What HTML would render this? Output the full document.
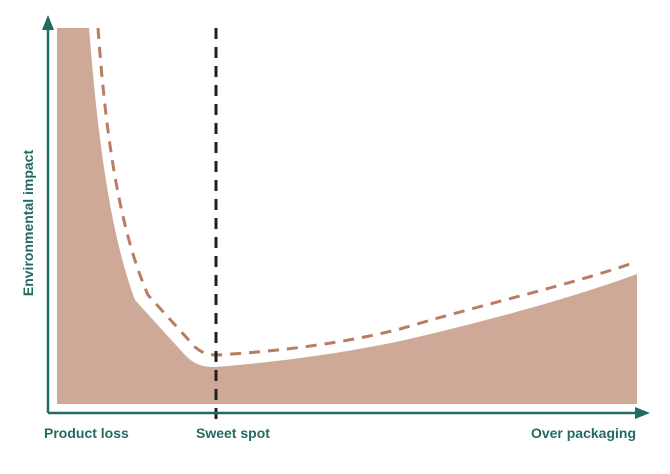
<!DOCTYPE html>
<html><head><meta charset="utf-8"><style>
html,body{margin:0;padding:0;background:#fff;}
svg{display:block;}
text{font-family:"Liberation Sans",sans-serif;font-weight:bold;fill:#226b60;font-size:14px;}
</style></head><body>
<svg width="670" height="474" viewBox="0 0 670 474" xmlns="http://www.w3.org/2000/svg">
<path d="M57,28 L89,28 C95,100 105,220 135,300 L185,355 C195,365 203,367 215,367 C280,362 350,352 405,340 C500,318 580,295 637,274 L637,404 L57,404 Z" fill="#cfa997"/>
<path d="M98,28 C104,110 115,220 148,295 L195,347 C202,353 208,355 218,355 C280,351 340,344 400,329 C480,305 570,285 636,262" fill="none" stroke="#b97d64" stroke-width="3" stroke-dasharray="11,8"/>
<line x1="216" y1="28" x2="216" y2="423" stroke="#231f1f" stroke-width="3" stroke-dasharray="11,8"/>
<path d="M48,413 L48,28 M48,413 L637,413" fill="none" stroke="#226b60" stroke-width="2.5"/>
<path d="M42,30 L48,15 L54,30 Z" fill="#226b60"/>
<path d="M635,407 L650,413 L635,419 Z" fill="#226b60"/>
<text x="44" y="438">Product loss</text>
<text x="196" y="438">Sweet spot</text>
<text x="636" y="438" text-anchor="end">Over packaging</text>
<text transform="translate(33,223) rotate(-90)" text-anchor="middle" font-size="13">Environmental impact</text>
</svg>
</body></html>
